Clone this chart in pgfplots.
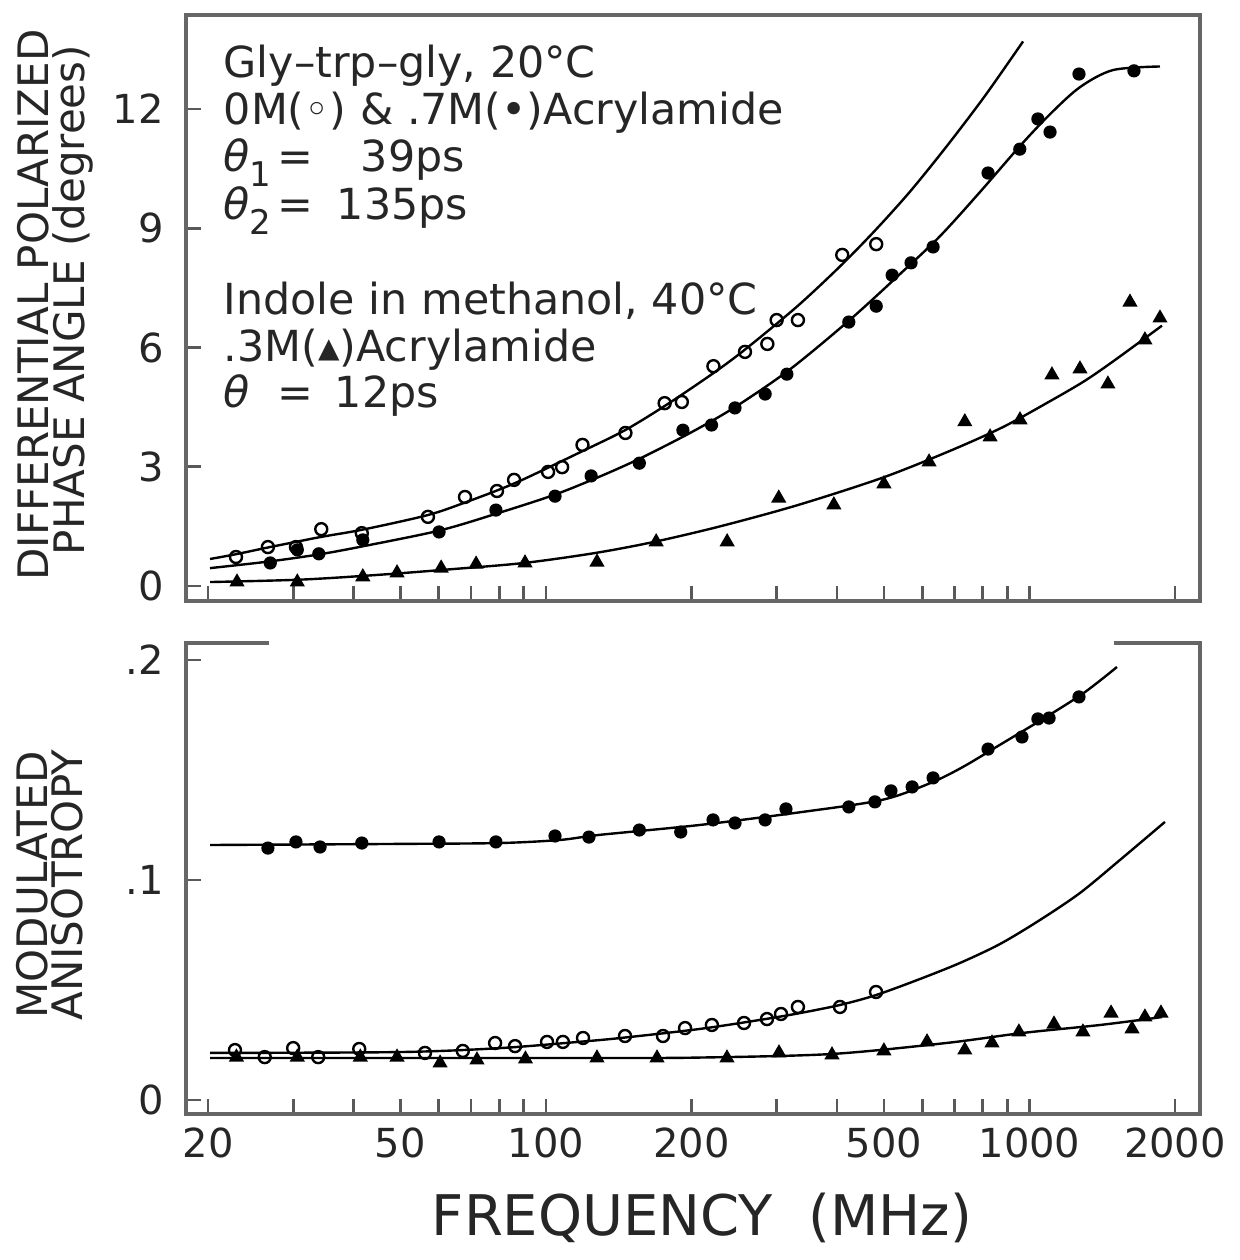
\documentclass[border=0pt]{standalone}
\usepackage{pgfplots}
\pgfplotsset{compat=1.18}
\usepackage{fontspec}
\setmainfont{DejaVu Sans}
\pgfplotsset{
  myfit/.style={black, line width=0.6pt, no marks, smooth, tension=0.5},
  myoc/.style={only marks, mark=o, mark size=1.5pt, mark options={fill=white, line width=0.6pt, draw=black}},
  myfc/.style={only marks, mark=*, mark size=1.45pt, mark options={fill=black, draw=black}},
  mytr/.style={only marks, mark=triangle*, mark size=1.8pt, mark options={fill=black, draw=black}},
}
\begin{document}
\begin{tikzpicture}
% ---------------- top panel ----------------
\begin{axis}[scale only axis, width=253.5pt, xmode=log, xmin=18.01, xmax=2253,
    axis line style={draw=none}, clip=false,
    tick align=inside, tick pos=left,
    xtick={20,50,100,200,500,1000,2000},
    minor xtick={30,40,60,70,80,90,300,400,600,700,800,900},
    major tick length=3.75pt, minor tick length=3.75pt,
    tick style={black!65, line width=0.7pt},
    tick label style={font=\fontsize{10}{12}\selectfont, text=black!85},
    yticklabel style={xshift=-2pt},
  at={(46.5pt,-150.25pt)}, anchor=south west, height=146.5pt,
  ymin=-0.377, ymax=14.365, ytick={0,3,6,9,12}, yticklabels={0,3,6,9,12},
  xticklabels={,,,,,,}]
\addplot[myfit] coordinates {(20.19,0.68)(22.85,0.80)(26.87,0.98)(34.09,1.23)(41.84,1.42)(56.76,1.78)(68.0,2.10)(86.7,2.60)(119.3,3.40)(145.7,3.92)(177.1,4.55)(221.6,5.35)(258.1,5.95)(330.5,7.03)(405.6,8.04)(479,8.94)(566,9.92)(675,11.07)(809,12.33)(970,13.70)};
\addplot[myfit] coordinates {(20.19,0.45)(26.87,0.62)(34.09,0.80)(41.84,1.00)(60.4,1.40)(80.4,1.85)(104.4,2.30)(129,2.75)(156,3.20)(198.6,3.85)(246,4.50)(319.6,5.45)(425.5,6.70)(540,7.85)(653,8.80)(790,9.91)(956,11.07)(1103,11.87)(1272,12.55)(1489,12.98)(1862,13.07)};
\addplot[myfit] coordinates {(20.19,0.10)(31.0,0.16)(44.9,0.28)(63.3,0.42)(90.1,0.58)(126.3,0.83)(167.3,1.11)(229,1.50)(330.5,2.03)(495.5,2.72)(685,3.40)(881.9,4.00)(1103,4.65)(1297,5.15)(1489,5.65)(1880,6.55)};
\addplot[myoc] coordinates {(22.85,0.73)(26.6,0.98)(30.4,0.98)(34.3,1.43)(41.6,1.33)(57.0,1.74)(68.0,2.24)(79.2,2.39)(85.9,2.67)(101,2.87)(108,2.99)(119,3.55)(146,3.85)(176,4.60)(191,4.63)(222,5.53)(258,5.89)(287,6.09)(300,6.69)(332,6.69)(410,8.33)(482,8.60)};
\addplot[myfc] coordinates {(26.9,0.58)(30.6,0.91)(33.9,0.81)(41.8,1.16)(60.1,1.36)(78.8,1.91)(104.4,2.26)(124,2.77)(156,3.09)(192,3.92)(220,4.05)(246,4.48)(284,4.83)(315,5.33)(423,6.64)(482,7.04)(520,7.82)(569,8.13)(632,8.53)(821,10.39)(955,10.99)(1041,11.75)(1103,11.42)(1266,12.88)(1645,12.96)};
\addplot[mytr] coordinates {(22.96,0.10)(30.6,0.10)(41.8,0.23)(49.2,0.33)(60.7,0.45)(71.7,0.55)(90.5,0.58)(127.5,0.60)(169,1.11)(237,1.11)(303,2.21)(394,2.04)(500,2.57)(620,3.12)(735,4.13)(829,3.75)(956,4.18)(1113,5.31)(1272,5.46)(1453,5.08)(1614,7.14)(1733,6.19)(1862,6.74)};
\draw[black!60, line width=0.8pt] (rel axis cs:0,1) -- (rel axis cs:0,0) -- (rel axis cs:1,0) -- (rel axis cs:1,1) -- cycle;
\end{axis}
% ---------------- bottom panel ----------------
\begin{axis}[scale only axis, width=253.5pt, xmode=log, xmin=18.01, xmax=2253,
    axis line style={draw=none}, clip=false,
    tick align=inside, tick pos=left,
    xtick={20,50,100,200,500,1000,2000},
    minor xtick={30,40,60,70,80,90,300,400,600,700,800,900},
    major tick length=3.75pt, minor tick length=3.75pt,
    tick style={black!65, line width=0.7pt},
    tick label style={font=\fontsize{10}{12}\selectfont, text=black!85},
    yticklabel style={xshift=-2pt},
  at={(46.5pt,-278.5pt)}, anchor=south west, height=117.75pt,
  ymin=-0.00636, ymax=0.2077, ytick={0,0.1,0.2}, yticklabels={0,.1,.2},
  xticklabels={20,50,100,200,500,1000,2000}]
\addplot[myfit] coordinates {(20.19,0.1159)(49.9,0.1164)(80.4,0.1168)(106.9,0.1182)(129,0.1205)(208,0.1250)(338.4,0.1309)(495.5,0.1364)(623,0.1440)(728.8,0.1514)(881.9,0.1623)(1072,0.1735)(1297,0.1851)(1517,0.1968)};
\addplot[myfit] coordinates {(20.19,0.0214)(49.9,0.0218)(80.4,0.0236)(119.3,0.0266)(145.7,0.0284)(208,0.0323)(277,0.0364)(335,0.0395)(405.6,0.0432)(481.6,0.0477)(593.6,0.0550)(718.5,0.0623)(869,0.0709)(1051,0.0818)(1272,0.0941)(1539,0.1091)(1907,0.1264)};
\addplot[myfit] coordinates {(20.19,0.0191)(129,0.0191)(208,0.0193)(388.6,0.0209)(672,0.0259)(970,0.0305)(1399,0.0341)(1880,0.0377)};
\addplot[myfc] coordinates {(26.6,0.1145)(30.4,0.1173)(34.1,0.1150)(41.6,0.1168)(60.1,0.1173)(78.8,0.1173)(104.4,0.1200)(122.7,0.1195)(156,0.1227)(190,0.1218)(221.6,0.1273)(246,0.1259)(284,0.1273)(313.6,0.1323)(423,0.1332)(479,0.1355)(517,0.1405)(572,0.1423)(632,0.1464)(821,0.1595)(965,0.1650)(1041,0.1732)(1098,0.1736)(1266,0.1832)};
\addplot[myoc] coordinates {(22.74,0.0227)(26.2,0.0195)(30.0,0.0236)(33.8,0.0195)(41.1,0.0232)(56.2,0.0214)(67.3,0.0223)(78.5,0.0259)(86.3,0.0245)(100.5,0.0264)(108.4,0.0264)(119.3,0.0282)(145.7,0.0291)(174.6,0.0291)(194,0.0327)(220.4,0.0341)(256.8,0.0350)(286.5,0.0368)(306.3,0.0391)(332,0.0423)(405.6,0.0423)(481.6,0.0491)};
\addplot[mytr] coordinates {(22.9,0.0195)(30.6,0.0195)(41.3,0.0195)(49.2,0.0195)(60.4,0.0168)(72.0,0.0182)(90.7,0.0186)(127.5,0.0191)(169.7,0.0191)(236.8,0.0191)(303.4,0.0214)(390.5,0.0205)(500,0.0223)(614,0.0264)(735,0.0227)(836.6,0.0259)(951,0.0309)(1124,0.0345)(1290,0.0309)(1475,0.0395)(1630,0.0323)(1733,0.0377)(1871,0.0395)};
\draw[black!60, line width=0.8pt] (rel axis cs:0.082,1) -- (rel axis cs:0,1) -- (rel axis cs:0,0) -- (rel axis cs:1,0) -- (rel axis cs:1,1) -- (rel axis cs:0.915,1);
\end{axis}
% ---------------- annotations ----------------
\begin{scope}[every node/.style={inner sep=0pt, font=\fontsize{10.7}{13}\selectfont, text=black!85}]
\node[anchor=base west] at (55.75pt,-19.5pt) {Gly--trp--gly, 20°C};
\node[anchor=base west] at (55.75pt,-31.25pt) {0M(◦) \& .7M(•)Acrylamide};
\node[anchor=base west] at (55.75pt,-43pt) {\textit{θ}\raisebox{-0.6ex}{\fontsize{8.5}{9}\selectfont 1}\hspace{1.5pt}=};
\node[anchor=base west] at (90pt,-43pt) {39ps};
\node[anchor=base west] at (55.75pt,-55pt) {\textit{θ}\raisebox{-0.6ex}{\fontsize{8.5}{9}\selectfont 2}\hspace{1.5pt}=};
\node[anchor=base west] at (84pt,-55pt) {135ps};
\node[anchor=base west] at (55.75pt,-78.75pt) {Indole in methanol, 40°C};
\node[anchor=base west] at (55.75pt,-90.5pt) {.3M(▴)Acrylamide};
\node[anchor=base west] at (55.75pt,-102pt) {\textit{θ}\ \ =};
\node[anchor=base west] at (83.5pt,-102pt) {12ps};
\end{scope}
\begin{scope}[every node/.style={inner sep=0pt, font=\fontsize{10.5}{12}\selectfont, text=black!85, rotate=90, anchor=center}]
\node at (8.25pt,-76.25pt) {DIFFERENTIAL POLARIZED};
\node at (18.25pt,-75pt) {PHASE ANGLE (degrees)};
\node at (8pt,-221.25pt) {MODULATED};
\node at (16.75pt,-221.25pt) {ANISOTROPY};
\end{scope}
\node[inner sep=0pt, font=\fontsize{14}{16}\selectfont, text=black!85] at (175.5pt,-304.5pt) {FREQUENCY\ \ (MHz)};
\path (0pt,0pt) rectangle (306.5pt,-315pt);
\end{tikzpicture}
\end{document}
